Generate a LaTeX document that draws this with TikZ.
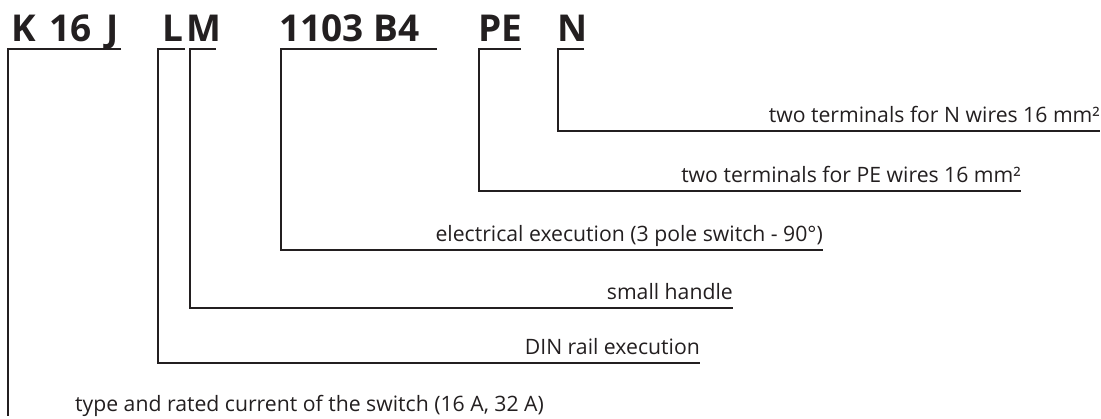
\documentclass[tikz,border=0pt]{standalone}
\usepackage{fontspec}
\setmainfont{Open Sans}
\definecolor{ink}{HTML}{231F20}
\begin{document}
\begin{tikzpicture}[x=1pt,y=-1pt,
  head/.style={anchor=base west,inner sep=0pt,font=\fontsize{37}{37}\selectfont\bfseries,text=ink},
  lbl/.style={anchor=base east,inner sep=0pt,font=\fontsize{21.2}{21}\selectfont,text=ink},
  bracket/.style={draw=ink,line width=2.4pt,line cap=butt,line join=miter}]
\useasboundingbox (0,0) rectangle (1101,419);
% headings
\node[head] (hK) at (11,42) {K};
\node[head] (h16) at (49,42) {16};
\node[head] (hJ) at (106,42) {J};
\node[head] (hL) at (162,42) {L};
\node[head] (hM) at (186,42) {M};
\node[head] (hB) at (279,42) {1103 B4};
\node[head] (hP) at (478,42) {PE};
\node[head] (hN) at (557,42) {N};
% bracket corners
\coordinate (kA) at (121,49); \coordinate (kB) at (8,49); \coordinate (kC) at (8,416);
\coordinate (lA) at (185,49); \coordinate (lB) at (158,49); \coordinate (lE) at (700,363);
\coordinate (mA) at (216,49); \coordinate (mB) at (190,49); \coordinate (mE) at (733,308);
\coordinate (bA) at (437,49); \coordinate (bB) at (281,49); \coordinate (bE) at (823,250);
\coordinate (pA) at (521,49); \coordinate (pB) at (479,49); \coordinate (pE) at (1021,191);
\coordinate (nA) at (584,49); \coordinate (nB) at (558,49); \coordinate (nE) at (1100,131);
% labels
\node[lbl] (tN) at ([yshift=8]nE) {two terminals for N wires 16 mm²};
\node[lbl] (tP) at ([yshift=8]pE) {two terminals for PE wires 16 mm²};
\node[lbl] (tB) at ([yshift=8]bE) {electrical execution (3 pole switch - 90°)};
\node[lbl] (tM) at ([yshift=8]mE) {small handle};
\node[lbl] (tL) at ([yshift=8]lE) {DIN rail execution};
\node[lbl,anchor=base west] (tK) at (75,412) {type and rated current of the switch (16 A, 32 A)};
% connectors
\draw[bracket] (kA) -- (kB) -- (kC);
\draw[bracket] (lA) -- (lB) |- (lE);
\draw[bracket] (mA) -- (mB) |- (mE);
\draw[bracket] (bA) -- (bB) |- (bE);
\draw[bracket] (pA) -- (pB) |- (pE);
\draw[bracket] (nA) -- (nB) |- (nE);
\end{tikzpicture}
\end{document}
